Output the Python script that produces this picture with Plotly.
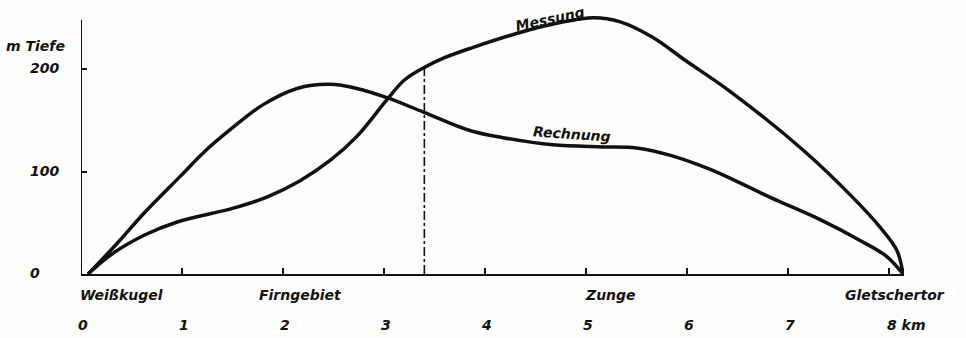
import numpy as np
import plotly.graph_objects as go

# Distance along the glacier (km) and ice depth (m)
rechnung_km = [0.07, 0.35, 0.63, 0.98, 1.23, 1.48, 1.8, 2.14, 2.47, 2.73, 3.03, 3.39, 3.85,
               4.18, 4.67, 5.17, 5.5, 5.83, 6.13, 6.33, 6.82, 7.32, 7.71, 7.98, 8.14]
rechnung_m = [0, 29, 60, 95, 120, 141, 165, 181, 185, 181, 172, 158, 140,
              133, 126, 124, 123, 116, 106, 98, 75, 53, 33, 17, 0]

messung_km = [0.07, 0.3, 0.63, 0.96, 1.5, 1.84, 2.17, 2.47, 2.73, 3.03, 3.2, 3.39, 3.6, 3.85,
              4.51, 5.07, 5.34, 5.66, 5.99, 6.43, 7.15, 7.64, 7.91, 8.08, 8.14]
messung_m = [0, 19, 38, 51, 64, 75, 91, 111, 134, 170, 189, 201, 211, 220,
             240, 250, 246, 231, 208, 178, 121, 75, 46, 23, 0]

# Axis labelling
x_tick_vals = [0, 1, 2, 3, 4, 5, 6, 7, 8]
x_tick_text = ["0", "1", "2", "3", "4", "5", "6", "7", "8 km"]
y_tick_vals = [0, 100, 200]
y_tick_text = ["0", "100", "200"]
places = ["Weißkugel", "Firngebiet", "Zunge", "Gletschertor"]
place_km = [0.0, 2.17, 5.24, 8.06]
section_km = 3.4

INK = "#111111"
FONT = dict(family="DejaVu Sans", size=14, color=INK, style="italic", weight=600)

fig = go.Figure()
for xs, ys in [(rechnung_km, rechnung_m), (messung_km, messung_m)]:
    fig.add_trace(go.Scatter(
        x=xs, y=ys, mode="lines",
        line=dict(color=INK, width=3.5, shape="spline", smoothing=1.0),
        hoverinfo="skip", showlegend=False,
    ))

# Dash-dot marker up to the measured profile
section_depth = float(np.interp(section_km, messung_km, messung_m))
fig.add_shape(type="line", x0=section_km, x1=section_km, y0=0, y1=section_depth,
              xref="x", yref="y", line=dict(color=INK, width=1.6, dash="dashdot"))

# Vertical axis line (shorter than the plot area)
fig.add_shape(type="line", x0=0, x1=0, y0=0, y1=248, xref="x", yref="y",
              line=dict(color=INK, width=2))

annotations = []
# Km labels below the place names
for v, t in zip(x_tick_vals, x_tick_text):
    annotations.append(dict(x=v, y=0, xref="x", yref="y", text=t, showarrow=False,
                            xanchor="left" if t.endswith("km") else "center",
                            xshift=-4 if t.endswith("km") else 2,
                            yshift=-51, font=FONT))
for name, v in zip(places, place_km):
    annotations.append(dict(x=v, y=0, xref="x", yref="y", text=name, showarrow=False,
                            xanchor="left" if v == 0 else "center",
                            xshift=-3 if v == 0 else 0, yshift=-21, font=FONT))
# Depth labels
for v, t in zip(y_tick_vals, y_tick_text):
    annotations.append(dict(x=0, y=v, xref="x", yref="y", text=t, showarrow=False,
                            xanchor="center", xshift=-46 if v == 0 else -37,
                            yshift=1, font=FONT))
# Unit label above the 200 mark
annotations.append(dict(x=0, y=222, xref="x", yref="y", text="m Tiefe", showarrow=False,
                        xanchor="center", yanchor="middle", xshift=-46, font=FONT))
# Curve names
annotations.append(dict(x=4.64, y=249, xref="x", yref="y", text="Messung", showarrow=False,
                        textangle=-12, font=FONT))
annotations.append(dict(x=4.86, y=137, xref="x", yref="y", text="Rechnung", showarrow=False,
                        textangle=4, font=FONT))

fig.update_layout(
    width=966, height=338,
    margin=dict(l=81, r=62, t=8, b=64),
    paper_bgcolor="#fdfdfc", plot_bgcolor="#fdfdfc",
    annotations=annotations,
    xaxis=dict(range=[0, 8.15], showgrid=False, zeroline=False,
               showline=True, linecolor=INK, linewidth=2,
               tickvals=x_tick_vals[1:], ticks="inside", ticklen=6, tickwidth=1.5,
               tickcolor=INK, showticklabels=False, fixedrange=True),
    yaxis=dict(range=[0, 259.5], showgrid=False, zeroline=False, showline=False,
               tickvals=y_tick_vals[1:], ticks="inside", ticklen=6, tickwidth=1.5,
               tickcolor=INK, showticklabels=False, fixedrange=True),
)

fig.write_html("out.html")
